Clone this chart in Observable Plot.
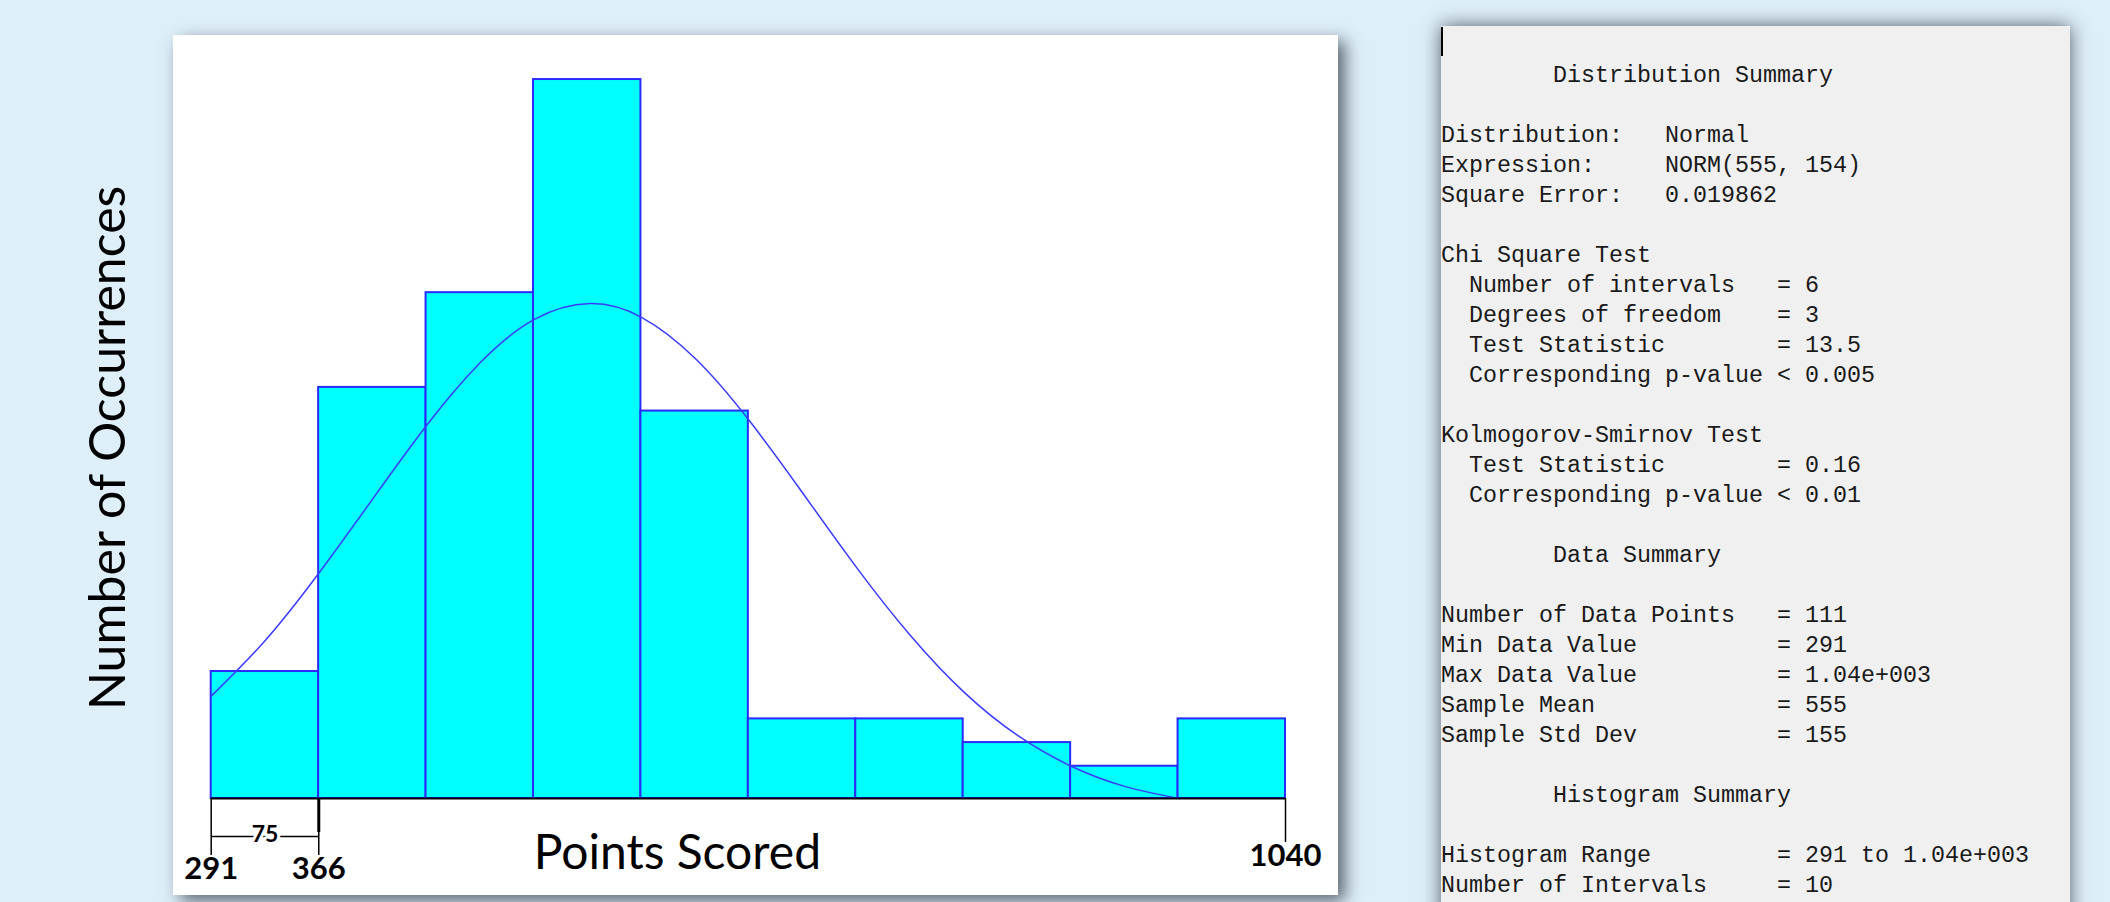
<!DOCTYPE html>
<html>
<head>
<meta charset="utf-8">
<script src="https://cdn.jsdelivr.net/npm/d3@7"></script>
<script src="https://cdn.jsdelivr.net/npm/@observablehq/plot@0.6"></script>
<style>
  html, body { margin: 0; padding: 0; }
  body { width: 2110px; height: 902px; background: #dfeffa; position: relative; overflow: hidden; font-family: Lato, sans-serif; }
  #panel { position: absolute; left: 173px; top: 35px; width: 1165px; height: 860px; background: #ffffff; box-shadow: 7px 6px 16px rgba(45,55,65,0.75); }
  #chart { position: absolute; left: 0; top: 0; }
  #summary { position: absolute; left: 1441px; top: 26px; width: 629px; height: 900px; background: #f0f0f0; box-shadow: 0 0 18px rgba(45,55,65,0.8); }
  #summary pre { margin: 0; position: absolute; left: 0; top: 35px; font: 23.33px/30px "Liberation Mono", monospace; color: #1a1a1a; }
  #cursor { position: absolute; left: 0; top: 1px; width: 2px; height: 29px; background: #000; }
</style>
</head>
<body>
<div id="panel"></div>
<div id="chart"></div>
<div id="summary"><div id="cursor"></div><pre id="summaryText"></pre></div>
<script>
// ---- data ----
const binEdges = [291, 365.9, 440.8, 515.7, 590.6, 665.5, 740.4, 815.3, 890.2, 965.1, 1040];
const counts   = [6, 18, 22, 31, 17, 4, 4, 3, 2, 4];

// fitted NORM(555, 154) curve, in occurrences per interval
const curveX = [291, 328.5, 366, 403.5, 441, 478.5, 516, 555, 591, 628.5, 666, 703.5, 741, 778.5, 816, 853.5, 891, 928.5, 966];
const curveY = [4.96, 7.30, 10.15, 13.28, 16.38, 19.04, 20.86, 21.54, 20.96, 19.22, 16.61, 13.53, 10.39, 7.52, 5.12, 3.29, 1.99, 1.14, 0.64];

const tickValues = [291, 366, 1040];
const tickLabels = ["291", "366", "1040"];
const intervalWidthLabel = "75";
const xLabel = "Points Scored";
const yLabel = "Number of Occurrences";

const summaryLines = [
  "        Distribution Summary",
  "",
  "Distribution:   Normal",
  "Expression:     NORM(555, 154)",
  "Square Error:   0.019862",
  "",
  "Chi Square Test",
  "  Number of intervals   = 6",
  "  Degrees of freedom    = 3",
  "  Test Statistic        = 13.5",
  "  Corresponding p-value < 0.005",
  "",
  "Kolmogorov-Smirnov Test",
  "  Test Statistic        = 0.16",
  "  Corresponding p-value < 0.01",
  "",
  "        Data Summary",
  "",
  "Number of Data Points   = 111",
  "Min Data Value          = 291",
  "Max Data Value          = 1.04e+003",
  "Sample Mean             = 555",
  "Sample Std Dev          = 155",
  "",
  "        Histogram Summary",
  "",
  "Histogram Range         = 291 to 1.04e+003",
  "Number of Intervals     = 10"
];

// ---- build ----
const yBase = 0.638;   // y-domain floor where the baseline sits
const yTop = 33;
const bins = counts.map((c, i) => ({x1: binEdges[i], x2: binEdges[i + 1], count: c}));
const curve = curveX.map((x, i) => ({x, y: curveY[i]}));
const labelOf = d => tickLabels[tickValues.indexOf(d)];

const plot = Plot.plot({
  width: 1340,
  height: 902,
  marginLeft: 210.7,
  marginRight: 55,
  marginTop: 31.7,
  marginBottom: 104,
  style: {background: "transparent", overflow: "visible", fontFamily: "Lato, sans-serif"},
  x: {domain: [binEdges[0], binEdges[binEdges.length - 1]]},
  y: {domain: [yBase, yTop], axis: null},
  marks: [
    Plot.rect(bins, {x1: "x1", x2: "x2", y1: yBase, y2: "count", fill: "#00ffff", stroke: "#2a2aff", strokeWidth: 2}),
    Plot.line(curve, {x: "x", y: "y", stroke: "#3b3bff", strokeWidth: 1.5, curve: "natural"}),
    Plot.ruleY([yBase], {stroke: "#000", strokeWidth: 2}),
    Plot.axisX([tickValues[0], tickValues[1]], {tickSize: 57, tickPadding: 1, tickFormat: labelOf, stroke: "#000", strokeWidth: 1.5,
      fontSize: 31, fontWeight: "bold", fill: "#000", label: null}),
    Plot.axisX([tickValues[1]], {tickSize: 34, strokeWidth: 3, stroke: "#000", tickFormat: () => "", label: null}),
    Plot.axisX([tickValues[2]], {tickSize: 44, tickPadding: 1, tickFormat: labelOf, stroke: "#000", strokeWidth: 1.5,
      fontSize: 31, fontWeight: "bold", fill: "#000", label: null}),
    Plot.link([{x1: binEdges[0], x2: tickValues[1]}], {x1: "x1", x2: "x2", y1: yBase, y2: yBase, dy: 38, stroke: "#000", strokeWidth: 1.5}),
    Plot.text([intervalWidthLabel], {x: (binEdges[0] + tickValues[1]) / 2, y: yBase, dy: 36, text: d => d, fontSize: 23, fontWeight: "bold",
      fill: "#000", stroke: "#fff", strokeWidth: 6, paintOrder: "stroke", lineAnchor: "middle"}),
    Plot.text([xLabel], {frameAnchor: "bottom", dx: -71, dy: 36, text: d => d, fontSize: 48, fill: "#000", lineAnchor: "top"}),
    Plot.text([yLabel], {frameAnchor: "left", rotate: -90, dx: -102.7, dy: 32.6, text: d => d, fontSize: 50, fill: "#000",
      textAnchor: "middle", lineAnchor: "middle"})
  ]
});
document.getElementById("chart").appendChild(plot);
document.getElementById("summaryText").textContent = summaryLines.join("\n");
</script>
</body>
</html>
